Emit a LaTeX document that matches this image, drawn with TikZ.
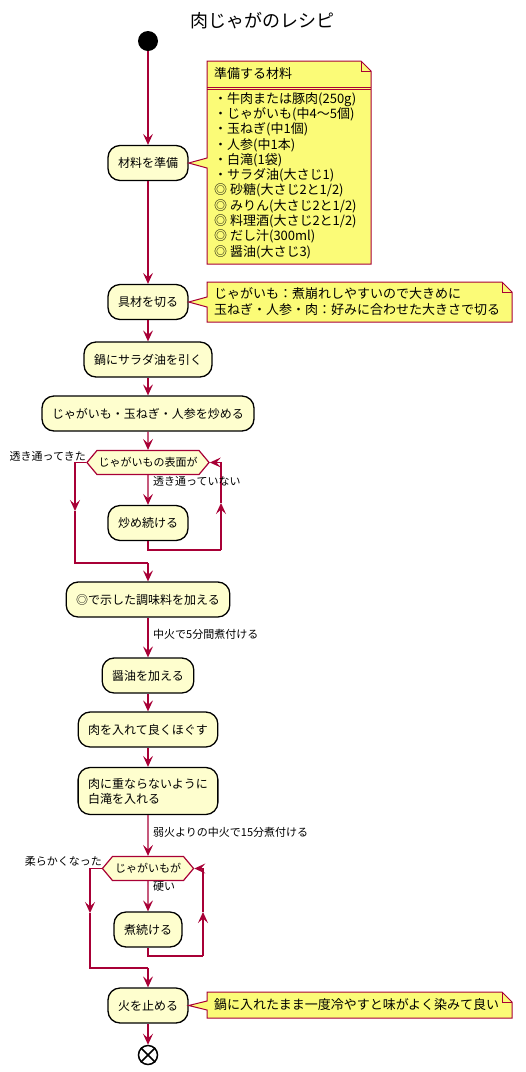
\documentclass[tikz,border=0pt]{standalone}
\usepackage{fontspec}
\setmainfont{Noto Sans CJK JP}
\usetikzlibrary{positioning, arrows.meta, shapes.symbols}
\definecolor{umlred}{RGB}{168, 0, 54}
\definecolor{actfill}{RGB}{254, 254, 206}
\definecolor{notefill}{RGB}{251, 251, 119}

\begin{document}
\begin{tikzpicture}[x=1pt, y=-1pt,
    act/.style={draw=black, line width=1.3pt, fill=actfill, rounded corners=12pt,
      minimum height=35pt, inner xsep=10pt, font=\fontsize{12}{15}\selectfont},
    cond/.style={signal, signal to=west and east, signal pointer angle=100,
      draw=umlred, line width=1.2pt, fill=actfill, minimum height=24pt,
      inner xsep=1.5pt, inner ysep=0pt, font=\fontsize{11}{13}\selectfont},
    flow/.style={umlred, line width=1.3pt, -{Stealth[length=11pt, width=10pt, inset=4.5pt]}},
    wire/.style={umlred, line width=1.3pt},
    lbl/.style={font=\fontsize{11}{13}\selectfont, inner sep=0pt},
    notetxt/.style={font=\fontsize{13}{15.3}\selectfont, align=left, inner sep=0pt},
    noteedge/.style={draw=umlred, line width=1pt, fill=notefill, line join=miter}]

    \useasboundingbox (0,0) rectangle (526,1072);

    % Title
    \node[font=\fontsize{18}{20}\selectfont] (title) at (262,21) {肉じゃがのレシピ};

    % Activities
    \node[circle, fill=black, minimum size=20pt, inner sep=0pt] (start) at (148,41) {};
    \node[act] (prep) at (148,163) {材料を準備};
    \node[act] (cut) at (148,302) {具材を切る};
    \node[act] (oil) at (148,359.5) {鍋にサラダ油を引く};
    \node[act] (fry) at (148,413.5) {じゃがいも・玉ねぎ・人参を炒める};
    \node[cond] (clear) at (148,462.5) {じゃがいもの表面が};
    \node[act] (keepfry) at (148,523) {炒め続ける};
    \node[act] (season) at (148,599.5) {◎で示した調味料を加える};
    \node[act] (soy) at (148,675.5) {醤油を加える};
    \node[act] (meat) at (148,729.5) {肉を入れて良くほぐす};
    \node[act, align=left, minimum height=47pt] (shirataki) at (148,791)
         {肉に重ならないように\\白滝を入れる};
    \node[cond, inner xsep=2.5pt] (soft) at (148,868.5) {じゃがいもが};
    \node[act] (keepboil) at (148,929.5) {煮続ける};
    \node[act] (off) at (148,1005.5) {火を止める};
    \node[circle, draw=black, line width=1.5pt, minimum size=19pt, inner sep=0pt] (stop) at (148,1055) {};
    \draw[line width=1.5pt] (stop.north east) -- (stop.south west);
    \draw[line width=1.5pt] (stop.north west) -- (stop.south east);

    % Branch corners
    \coordinate (l1top) at (75,462.5);
    \coordinate (l1mid) at (75,511);
    \coordinate (l1bot) at (75,563);
    \coordinate (join1) at (148,563);
    \coordinate (r1bot) at (148,550);
    \coordinate (r1cnr) at (221,550);
    \coordinate (r1mid) at (221,503);
    \coordinate (r1top) at (221,462.5);
    \coordinate (l2top) at (90,868.5);
    \coordinate (l2mid) at (90,913);
    \coordinate (l2bot) at (90,968);
    \coordinate (join2) at (148,968);
    \coordinate (r2bot) at (148,956);
    \coordinate (r2cnr) at (203,956);
    \coordinate (r2mid) at (203,912);
    \coordinate (r2top) at (203,868.5);

    % Connectors
    \draw[flow] (start) -- (prep);
    \draw[flow] (prep) -- (cut);
    \draw[flow] (cut) -- (oil);
    \draw[flow] (oil) -- (fry);
    \draw[flow] (fry) -- (clear);
    \draw[flow] (clear) -- (keepfry);
    \draw[wire] (keepfry) -- (r1bot) -- (r1cnr);
    \draw[flow] (r1cnr) -- (r1mid);
    \draw[flow] (r1mid) -- (r1top) -- (clear.east);
    \draw[flow] (clear.west) -- (l1top) -- (l1mid);
    \draw[wire] (l1mid) -- (l1bot) -- (join1);
    \draw[flow] (join1) -- (season);
    \draw[flow] (season) -- (soy);
    \draw[flow] (soy) -- (meat);
    \draw[flow] (meat) -- (shirataki);
    \draw[flow] (shirataki) -- (soft);
    \draw[flow] (soft) -- (keepboil);
    \draw[wire] (keepboil) -- (r2bot) -- (r2cnr);
    \draw[flow] (r2cnr) -- (r2mid);
    \draw[flow] (r2mid) -- (r2top) -- (soft.east);
    \draw[flow] (soft.west) -- (l2top) -- (l2mid);
    \draw[wire] (l2mid) -- (l2bot) -- (join2);
    \draw[flow] (join2) -- (off);
    \draw[flow] (off) -- (stop);

    % Branch and edge labels
    \node[lbl, anchor=east] (clearyes) at (86,456) {透き通ってきた};
    \node[lbl, anchor=west] (clearno) at (153,481) {透き通っていない};
    \node[lbl, anchor=west] (simmer1) at (153,634) {中火で5分間煮付ける};
    \node[lbl, anchor=west] (simmer2) at (153,832) {弱火よりの中火で15分煮付ける};
    \node[lbl, anchor=east] (softyes) at (102,862) {柔らかくなった};
    \node[lbl, anchor=west] (softno) at (153,887) {硬い};

    % Notes
    \draw[noteedge] (207,61) -- (361,61) -- (371,71) -- (371,264) -- (207,264)
        -- (207,168) -- (prep.east) -- (207,158) -- cycle;
    \draw[umlred, line width=1pt] (361,61) -- (361,71) -- (371,71);
    \draw[umlred, line width=1pt] (207,87) -- (371,87);
    \draw[umlred, line width=1pt] (207,89.5) -- (371,89.5);
    \node[notetxt, anchor=west] (ingrhead) at (214,74) {準備する材料};
    \node[notetxt, anchor=north west] (ingrbody) at (214,92)
         {・牛肉または豚肉(250g)\\・じゃがいも(中4〜5個)\\・玉ねぎ(中1個)\\・人参(中1本)\\
          ・白滝(1袋)\\・サラダ油(大さじ1)\\◎ 砂糖(大さじ2と1/2)\\◎ みりん(大さじ2と1/2)\\
          ◎ 料理酒(大さじ2と1/2)\\◎ だし汁(300ml)\\◎ 醤油(大さじ3)};

    \draw[noteedge] (207,282) -- (502,282) -- (512,292) -- (512,322) -- (207,322)
        -- (207,307) -- (cut.east) -- (207,297) -- cycle;
    \draw[umlred, line width=1pt] (502,282) -- (502,292) -- (512,292);
    \node[notetxt, anchor=west, font=\fontsize{13}{16}\selectfont] (cutnote) at (214,302)
         {じゃがいも：煮崩れしやすいので大きめに\\玉ねぎ・人参・肉：好みに合わせた大きさで切る};

    \draw[noteedge] (207,992) -- (502,992) -- (512,1002) -- (512,1018) -- (207,1018)
        -- (207,1010) -- (off.east) -- (207,1001) -- cycle;
    \draw[umlred, line width=1pt] (502,992) -- (502,1002) -- (512,1002);
    \node[notetxt, anchor=west] (offnote) at (214,1005) {鍋に入れたまま一度冷やすと味がよく染みて良い};

\end{tikzpicture}
\end{document}
